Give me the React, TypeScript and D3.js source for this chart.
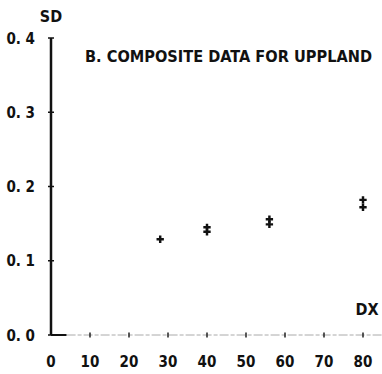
import React, { useRef, useEffect } from "react";
import * as d3 from "d3";

// values
const dxValues = [28, 40, 40, 56, 56, 80, 80];
const sdValues = [0.129, 0.145, 0.139, 0.156, 0.149, 0.182, 0.172];
const xTicks = [0, 10, 20, 30, 40, 50, 60, 70, 80];
const yTicks = [0.0, 0.1, 0.2, 0.3, 0.4];
const title = "B. COMPOSITE DATA FOR UPPLAND";

const FONT = "'DejaVu Sans Condensed', 'DejaVu Sans', sans-serif";

export default function App() {
  const svgRef = useRef<SVGSVGElement>(null);
  const width = 382;
  const height = 374;

  useEffect(() => {
    const svg = d3.select(svgRef.current);
    svg.selectAll("*").remove();

    const x = d3.scaleLinear().domain([0, 80]).range([51, 363]);
    const y = d3.scaleLinear().domain([0, 0.4]).range([335, 38]);

    const g = svg.append("g");

    // x axis: short solid piece, then faint dashed line
    g.append("line")
      .attr("x1", x(0)).attr("x2", x(4))
      .attr("y1", y(0)).attr("y2", y(0))
      .attr("stroke", "#111").attr("stroke-width", 2);
    g.append("line")
      .attr("x1", x(4)).attr("x2", width)
      .attr("y1", y(0)).attr("y2", y(0))
      .attr("stroke", "#aaa").attr("stroke-width", 1)
      .attr("stroke-dasharray", "9,2,4,2");

    g.selectAll(".xtick")
      .data(xTicks.slice(1))
      .join("line")
      .attr("x1", (d) => x(d)).attr("x2", (d) => x(d))
      .attr("y1", y(0) - 2.5).attr("y2", y(0) + 2.5)
      .attr("stroke", "#222").attr("stroke-width", 1.5);

    // y axis
    g.append("line")
      .attr("x1", x(0)).attr("x2", x(0))
      .attr("y1", y(0.4)).attr("y2", y(0))
      .attr("stroke", "#111").attr("stroke-width", 2.5);

    g.selectAll(".ytick")
      .data(yTicks)
      .join("line")
      .attr("x1", x(0) - 3).attr("x2", x(0) + 3)
      .attr("y1", (d) => y(d)).attr("y2", (d) => y(d))
      .attr("stroke", "#111").attr("stroke-width", 1.5);

    // tick labels
    g.selectAll(".xlab")
      .data(xTicks)
      .join("text")
      .attr("x", (d) => x(d))
      .attr("y", 367)
      .attr("text-anchor", "middle")
      .attr("font-family", FONT)
      .attr("font-weight", "bold")
      .attr("font-size", 15)
      .attr("fill", "#111")
      .text((d) => d);

    g.selectAll(".ylab")
      .data(yTicks)
      .join("text")
      .attr("x", 35)
      .attr("y", (d) => y(d) + 5.5)
      .attr("text-anchor", "end")
      .attr("font-family", FONT)
      .attr("font-weight", "bold")
      .attr("font-size", 15)
      .attr("fill", "#111")
      .text((d) => d3.format(".1f")(d).replace(".", ". "));

    // axis names
    g.append("text")
      .attr("x", 51).attr("y", 22)
      .attr("text-anchor", "middle")
      .attr("font-family", FONT).attr("font-weight", "bold").attr("font-size", 16)
      .attr("fill", "#111")
      .text("SD");
    g.append("text")
      .attr("x", 367).attr("y", 315)
      .attr("text-anchor", "middle")
      .attr("font-family", FONT).attr("font-weight", "bold").attr("font-size", 16)
      .attr("fill", "#111")
      .text("DX");

    // title
    g.append("text")
      .attr("x", 85).attr("y", 62)
      .attr("font-family", FONT).attr("font-weight", "bold").attr("font-size", 15)
      .attr("textLength", 287).attr("lengthAdjust", "spacingAndGlyphs")
      .attr("fill", "#111")
      .text(title);

    // data markers (plus signs)
    const pts = dxValues.map((d, i) => ({ dx: d, sd: sdValues[i] }));
    const sym = d3.symbol().type(d3.symbolCross).size(30);
    g.selectAll(".pt")
      .data(pts)
      .join("path")
      .attr("transform", (d) => `translate(${x(d.dx)},${y(d.sd)})`)
      .attr("d", sym)
      .attr("fill", "#111");
  }, []);

  return (
    <svg
      ref={svgRef}
      width={width}
      height={height}
      style={{ position: "absolute", left: 0, top: 0, background: "#fff" }}
    />
  );
}
